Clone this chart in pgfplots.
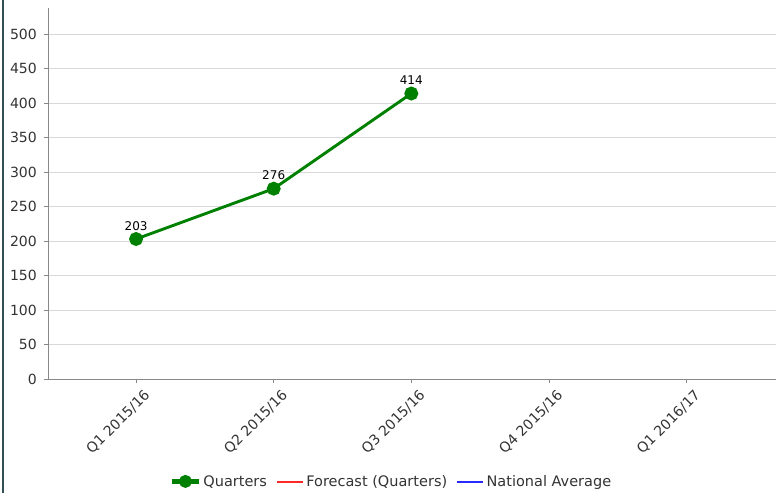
\documentclass[border=0pt]{standalone}
\usepackage{pgfplots}
\pgfplotsset{compat=1.18}
\usepackage{fontspec}
\setmainfont{DejaVu Sans}
\definecolor{qgreen}{RGB}{0,128,0}
\definecolor{gridgrey}{RGB}{216,216,216}
\definecolor{axisgrey}{RGB}{136,136,136}
\definecolor{labelgrey}{RGB}{51,51,51}
\definecolor{framedark}{RGB}{52,78,86}
\definecolor{fcred}{RGB}{255,40,40}
\definecolor{natblue}{RGB}{40,40,255}
\begin{document}
\begin{tikzpicture}[x=1pt,y=1pt]
\useasboundingbox (0,0) rectangle (781,493);
\fill[framedark] (1.5,0) rectangle (4,493);
\begin{axis}[
  at={(48pt,114pt)}, anchor=south west,
  scale only axis, width=728pt, height=371pt,
  xmin=-0.64, xmax=4.65, ymin=0, ymax=538,
  axis x line*=bottom, axis y line*=left,
  axis line style={axisgrey, line width=1pt},
  every outer x axis line/.append style={-}, every outer y axis line/.append style={-},
  xtick={0,1,2,3,4},
  xticklabels={Q1 2015/16,Q2 2015/16,Q3 2015/16,Q4 2015/16,Q1 2016/17},
  ytick={0,50,...,500},
  tick align=outside, tick pos=left,
  major tick length=4pt,
  tick style={axisgrey, line width=0.8pt},
  ymajorgrids, grid style={gridgrey, line width=1pt},
  /pgf/number format/assume math mode=true,
  ticklabel style={font=\fontsize{14}{16}\selectfont, text=labelgrey},
  xticklabel style={rotate=45, anchor=north east, inner sep=0pt, yshift=-9pt, xshift=1pt},
  yticklabel style={inner sep=0pt, xshift=-7pt},
  legend style={at={(0.473,-0.276)}, anchor=center, draw=none, fill=none,
    legend columns=-1, font=\fontsize{14.5}{16}\selectfont, text=labelgrey,
    /tikz/every odd column/.append style={column sep=2pt},
    /tikz/every even column/.append style={column sep=8pt}},
  clip=false,
]
\addplot[qgreen, line width=2.9pt, mark=*, mark size=5.5pt,
  nodes near coords, every node near coord/.style={font=\fontsize{12}{14}\selectfont, text=black, anchor=south, yshift=4pt},
  legend image code/.code={
    \fill[qgreen] (0pt,-0.8pt) rectangle (25pt,0.8pt);
    \fill[qgreen] (12.5pt,0pt) circle (5pt);}]
  coordinates {(0,203) (1,276) (2,414)};
\addlegendentry{Quarters}
\addlegendimage{fcred, legend image code/.code={\fill[fcred] (0pt,-0.6pt) rectangle (25pt,0.6pt);}}
\addlegendentry{Forecast (Quarters)}
\addlegendimage{natblue, legend image code/.code={\fill[natblue] (0pt,-0.6pt) rectangle (25pt,0.6pt);}}
\addlegendentry{National Average}
\end{axis}
\end{tikzpicture}
\end{document}
